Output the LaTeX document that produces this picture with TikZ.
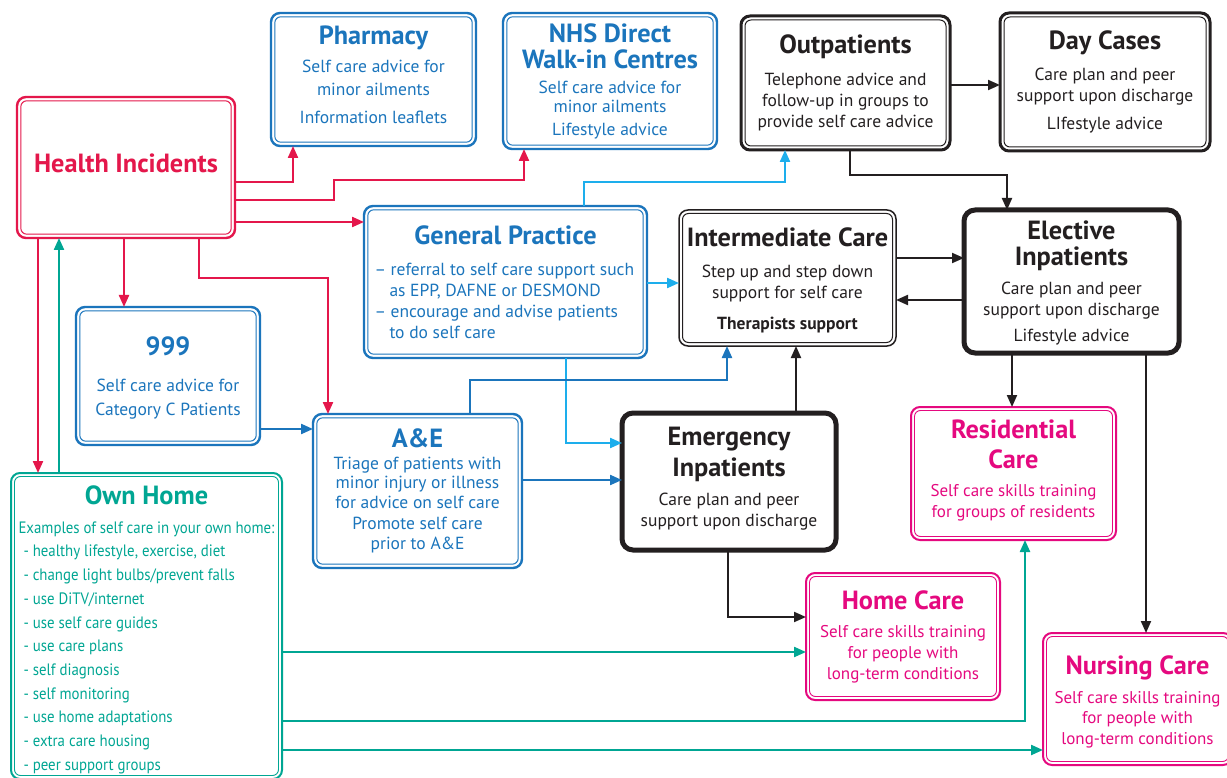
\documentclass[tikz,border=0pt]{standalone}
\usepackage{fontspec}
\setmainfont{PT Sans}
\newfontfamily\condfont[FakeStretch=0.9]{PT Sans}
\usetikzlibrary{arrows.meta}
\definecolor{cred}{RGB}{228,23,75}
\definecolor{cblue}{RGB}{27,117,188}
\definecolor{ccyan}{RGB}{29,174,236}
\definecolor{cteal}{RGB}{0,166,147}
\definecolor{cmag}{RGB}{229,9,127}
\definecolor{cblk}{RGB}{35,31,32}
\newcommand\ttl{\fontsize{26.3}{28}\selectfont\bfseries}
\newcommand\bdy{\fontsize{17.5}{21}\selectfont}
\newcommand\ohb{\condfont\fontsize{16.5}{23.7}\selectfont}
\newcommand\lowpad[1]{\rule[-#1]{0pt}{1pt}}
\newcommand\toppad[1]{\rule{0pt}{#1}}
\tikzset{
  wh/.style 2 args={minimum width=#1pt, minimum height=#2pt},
  basebox/.style={draw, rounded corners=9pt, outer sep=0pt, inner sep=0pt, align=center, font=\bdy},
  innerline/.style 2 args={append after command={\pgfextra{\draw[#1, rounded corners=6pt]
      ([shift={(#2,-#2)}]\tikzlastnode.north west) rectangle ([shift={(-#2,#2)}]\tikzlastnode.south east);}}},
  bluebox/.style={basebox, draw=cblue, text=cblue, line width=2.4pt, innerline={cblue, line width=1pt}{3.8pt}},
  redbox/.style={basebox, draw=cred, text=cred, line width=2.4pt, innerline={cred, line width=1pt}{3.8pt}},
  tealbox/.style={basebox, draw=cteal, text=cteal, line width=2pt, innerline={cteal, line width=0.9pt}{3.5pt}},
  magbox/.style={basebox, draw=cmag, text=cmag, line width=2pt, innerline={cmag, line width=0.9pt}{3.5pt}},
  blkdbl/.style={basebox, draw=cblk, text=cblk, line width=3pt, innerline={cblk, line width=1pt}{4pt}},
  blkthin/.style={basebox, draw=cblk, text=cblk, line width=1.5pt, innerline={cblk, line width=1pt}{3.5pt}},
  blkthick/.style={basebox, draw=cblk, text=cblk, line width=5pt, rounded corners=11pt},
  conn/.style={line width=2.2pt, -{Triangle[length=12pt,width=10pt]}},
  redc/.style={conn, draw=cred},
  tealc/.style={conn, draw=cteal},
  cyanc/.style={conn, draw=ccyan},
  bluec/.style={conn, draw=cblue},
  blackc/.style={conn, line width=2pt, draw=cblk},
}
\begin{document}
\begin{tikzpicture}[x=1pt, y=-1pt]
\useasboundingbox (0,0) rectangle (1227,778);
\fill[white] (0,0) rectangle (1227,778);

% boxes
\node[redbox, wh={218}{141}] (hi) at (126,167.5) {\ttl Health Incidents\lowpad{9pt}};
\node[bluebox, wh={205}{133}] (ph) at (373.5,79.5) {\ttl Pharmacy\\[7pt]Self care advice for\\[2pt]minor ailments\\[7pt]Information leaflets\lowpad{9pt}};
\node[bluebox, wh={214}{136}] (nhs) at (610,81) {\ttl NHS Direct\\[5pt]\ttl Walk-in Centres\\[4pt]Self care advice for\\[-2pt]minor ailments\\[2pt]Lifestyle advice};
\node[blkdbl, wh={209}{134}] (out) at (845.5,83) {\ttl Outpatients\\[11pt]Telephone advice and\\follow-up in groups to\\provide self care advice};
\node[blkdbl, wh={210}{138}] (day) at (1105,82) {\ttl Day Cases\\[10pt]Care plan and peer\\support upon discharge\\[7pt]LIfestyle advice};
\node[bluebox, wh={283}{152}] (gp) at (505.5,282) {\makebox[262pt]{\ttl General Practice}\\[17pt]
  \parbox{262pt}{\raggedright\bdy -- referral to self care support such\\\hspace*{15pt}as EPP, DAFNE or DESMOND\\-- encourage and advise patients\\\hspace*{15pt}to do self care}};
\node[blkthin, wh={217}{136}] (ic) at (787.5,278) {\ttl\toppad{24pt}Intermediate Care\\[10pt]Step up and step down\\support for self care\\[10pt]\bfseries Therapists support};
\node[blkthick, wh={215}{143}] (el) at (1071.5,281.5) {\ttl\toppad{22pt}Elective\\[5pt]\ttl Inpatients\\[8pt]Care plan and peer\\support upon discharge\\[5pt]Lifestyle advice};
\node[bluebox, wh={184}{138}] (n999) at (168,376) {\ttl\toppad{22pt}999\\[15pt]Self care advice for\\[3pt]Category C Patients};
\node[bluebox, wh={209}{154}] (ae) at (417.5,491) {\ttl A\&E\\[1pt]Triage of patients with\\[-2pt]minor injury or illness\\[-1pt]for advice on self care\\Promote self care\\[-1pt]prior to A\&E};
\node[blkthick, wh={214}{137}] (em) at (729,481.5) {\ttl Emergency\\[6pt]\ttl Inpatients\\[8pt]Care plan and peer\\support upon discharge\lowpad{10pt}};
\node[magbox, wh={205}{133}] (res) at (1013.5,473.5) {\ttl Residential\\[9pt]\ttl Care\\[7pt]\fontsize{17}{21}\selectfont Self care skills training\\\fontsize{17}{21}\selectfont for groups of residents\lowpad{10pt}};
\node[tealbox, wh={271}{306}] (oh) at (146.5,626) {\makebox[256pt]{\ttl\rule{0pt}{26pt}Own Home}\\[16pt]
  \parbox{256pt}{\raggedright\ohb Examples of self care in your own home:\\
  \hspace*{5pt}- healthy lifestyle, exercise, diet\\
  \hspace*{5pt}- change light bulbs/prevent falls\\
  \hspace*{5pt}- use DiTV/internet\\
  \hspace*{5pt}- use self care guides\\
  \hspace*{5pt}- use care plans\\
  \hspace*{5pt}- self diagnosis\\
  \hspace*{5pt}- self monitoring\\
  \hspace*{5pt}- use home adaptations\\
  \hspace*{5pt}- extra care housing\\
  \hspace*{5pt}- peer support groups}};
\node[magbox, wh={194}{127}, font=\fontsize{17}{21}\selectfont] (hc) at (903,636.5) {\ttl Home Care\\[7pt]Self care skills training\\for people with\\long-term conditions};
\node[magbox, wh={189}{132}, font=\fontsize{17}{21}\selectfont] (nc) at (1137.5,699) {\ttl\toppad{25pt}Nursing Care\\[8pt]Self care skills training\\[-1pt]for people with\\long-term conditions};

% red connectors
\draw[redc] (hi.east |- 0,182) -| (ph.south -| 293,0);
\draw[redc] (hi.east |- 0,200) -| (334,180) -| (nhs.south -| 524,0);
\draw[redc] (hi.east |- 0,222) -- (gp.west |- 0,222);
\draw[redc] (hi.south -| 38,0) -- (oh.north -| 38,0);
\draw[redc] (hi.south -| 124,0) -- (n999.north -| 124,0);
\draw[redc] (hi.south -| 199,0) |- (328,278) -- (ae.north -| 328,0);
% teal connectors
\draw[tealc] (oh.north -| 59,0) -- (hi.south -| 59,0);
\draw[tealc] (oh.east |- 0,652) -- (hc.west |- 0,652);
\draw[tealc] (oh.east |- 0,721) -| (res.south -| 1025,0);
\draw[tealc] (oh.east |- 0,750) -- (nc.west |- 0,750);
% cyan connectors
\draw[cyanc] (gp.north -| 584,0) |- (785,182) -- (out.south -| 785,0);
\draw[cyanc] (gp.east |- 0,283) -- (ic.west |- 0,283);
\draw[cyanc] (gp.south -| 566,0) |- (em.west |- 0,443);
% blue connectors
\draw[bluec] (n999.east |- 0,429) -- (ae.west |- 0,429);
\draw[bluec] (ae.north -| 470,0) |- (727,380) -- (ic.south -| 727,0);
\draw[bluec] (ae.east |- 0,480) -- (em.west |- 0,480);
% black connectors
\draw[blackc] (out.east |- 0,85) -- (day.west |- 0,85);
\draw[blackc] (out.south -| 850,0) |- (1007,175) -- (el.north -| 1007,0);
\draw[blackc] (ic.east |- 0,258) -- (el.west |- 0,258);
\draw[blackc] (el.west |- 0,300) -- (ic.east |- 0,300);
\draw[blackc] (em.north -| 796,0) -- (ic.south -| 796,0);
\draw[blackc] (el.south -| 1012,0) -- (res.north -| 1012,0);
\draw[blackc] (el.south -| 1146,0) -- (nc.north -| 1146,0);
\draw[blackc] (em.south -| 728,0) |- (hc.west |- 0,617);
\end{tikzpicture}
\end{document}
